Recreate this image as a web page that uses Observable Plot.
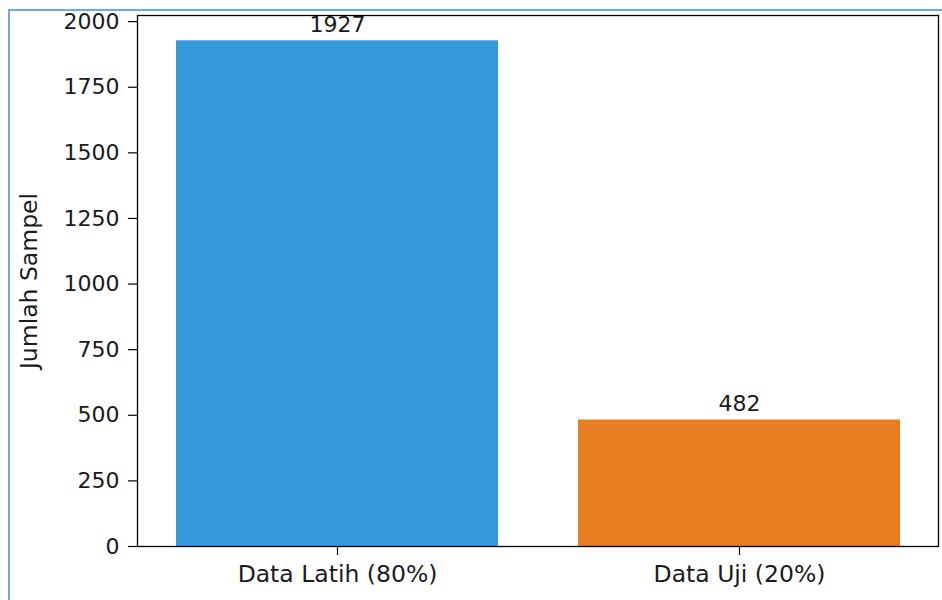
<!DOCTYPE html>
<html>
<head>
<meta charset="utf-8">
<script src="https://cdn.jsdelivr.net/npm/d3@7"></script>
<script src="https://cdn.jsdelivr.net/npm/@observablehq/plot@0.6"></script>
<style>
  html, body { margin: 0; padding: 0; background: #fff; }
  #wrap { position: relative; width: 942px; height: 600px; overflow: hidden; }
  #border { position: absolute; left: 8px; top: 9px; width: 940px; height: 600px;
            border-left: 2px solid #6fa8e0; border-top: 2px solid #6fa8e0; box-sizing: border-box; }
  #chart { position: absolute; left: 0; top: 0; }
  svg { font-family: "DejaVu Sans", sans-serif; }
</style>
</head>
<body>
<div id="wrap"><div id="border"></div><div id="chart"></div></div>
<script>
const categories = ["Data Latih (80%)", "Data Uji (20%)"];
const counts = [1927, 482];
const colors = ["#3498db", "#e67e22"];
const yTicks = [0, 250, 500, 750, 1000, 1250, 1500, 1750, 2000];
const yLabel = "Jumlah Sampel";

const data = categories.map((c, i) => ({category: c, count: counts[i], color: colors[i]}));
const yMax = d3.max(counts) * 1.05;

const chart = Plot.plot({
  width: 942,
  height: 600,
  marginLeft: 137,
  marginRight: 4,
  marginTop: 15,
  marginBottom: 54,
  style: {fontFamily: "DejaVu Sans, sans-serif", fontSize: "22px", color: "#1a1a1a", background: "transparent"},
  x: {domain: categories, paddingInner: 0.2, paddingOuter: 0.095},
  y: {domain: [0, yMax]},
  marks: [
    Plot.barY(data, {x: "category", y: "count", fill: "color"}),
    Plot.text(data, {x: "category", y: "count", text: d => String(d.count), lineAnchor: "bottom", dy: -9, fill: "#1a1a1a", fontSize: 22}),
    Plot.frame({stroke: "#000", strokeWidth: 1.3}),
    Plot.axisY({ticks: yTicks, tickFormat: d3.format("d"), tickSize: 9, tickPadding: 9, strokeWidth: 1.2, label: null, fontSize: 22, stroke: "#000"}),
    Plot.axisY({ticks: [], tickSize: 0, label: yLabel, labelAnchor: "center", labelArrow: "none", labelOffset: 117, fontSize: 23.5}),
    Plot.axisX({tickSize: 9, tickPadding: 10, strokeWidth: 1.2, label: null, fontSize: 23.5, stroke: "#000"})
  ]
});
document.getElementById("chart").appendChild(chart);
</script>
</body>
</html>
